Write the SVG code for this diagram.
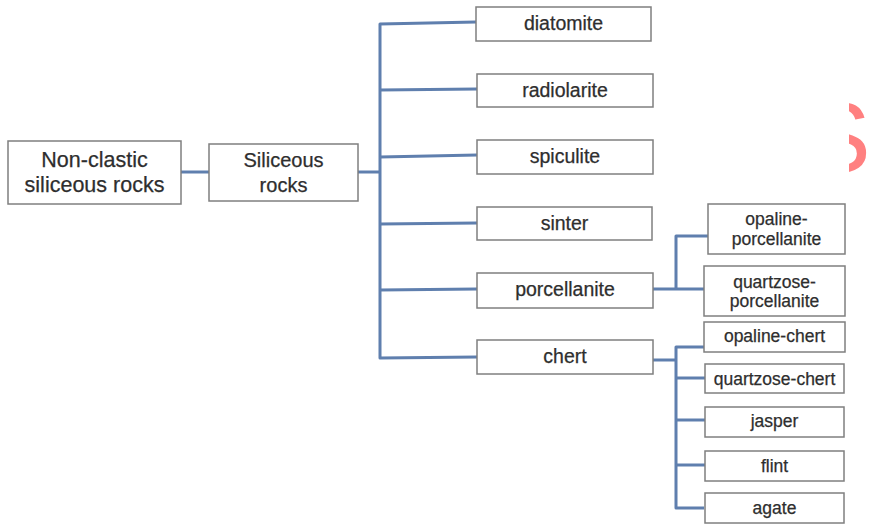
<svg xmlns="http://www.w3.org/2000/svg" width="877" height="525" viewBox="0 0 877 525">
  <style>
    .box { fill: #ffffff; stroke: #7f7f7f; stroke-width: 1.5; }
    .lbl { font-family: "Liberation Sans", Arial, sans-serif; fill: #2e2e2e; stroke: #2e2e2e; stroke-width: 0.25; text-anchor: middle; }
    .l0 { font-size: 21.5px; }
    .l1 { font-size: 20px; }
    .l2 { font-size: 19.5px; }
    .l3 { font-size: 17.5px; }
    .wire { fill: none; stroke: #5f7fae; stroke-width: 3; stroke-linejoin: round; }
  </style>
  <defs>
    <clipPath id="edgeClip"><rect x="849" y="90" width="28" height="90"/></clipPath>
  </defs>
  <rect width="877" height="525" fill="#ffffff"/>

  <!-- connectors -->
  <g id="connectors">
    <path class="wire" d="M181 172 H209"/>
    <path class="wire" d="M358 172 H380"/>
    <path class="wire" d="M476 22 L380 24 V358 L477 357"/>
    <path class="wire" d="M380 90 L477 89"/>
    <path class="wire" d="M380 157 L477 155"/>
    <path class="wire" d="M380 224 L477 223"/>
    <path class="wire" d="M380 290 L477 289"/>
    <path class="wire" d="M653 289 H704"/>
    <path class="wire" d="M708 236 H676 V289"/>
    <path class="wire" d="M653 360 H676"/>
    <path class="wire" d="M704 347 H676 V508 H704"/>
    <path class="wire" d="M676 378 H705"/>
    <path class="wire" d="M676 420 H705"/>
    <path class="wire" d="M676 465 H705"/>
  </g>

  <g id="non-clastic">
    <rect class="box" x="8" y="141" width="173" height="63"/>
    <text class="lbl l0" x="94.5" y="167">Non-clastic</text>
    <text class="lbl l0" x="94.5" y="192">siliceous rocks</text>
  </g>
  <g id="siliceous">
    <rect class="box" x="209" y="144" width="149" height="57"/>
    <text class="lbl l1" x="283.5" y="167">Siliceous</text>
    <text class="lbl l1" x="283.5" y="192">rocks</text>
  </g>

  <g id="diatomite">
    <rect class="box" x="476" y="7" width="175" height="34"/>
    <text class="lbl l2" x="563.5" y="30">diatomite</text>
  </g>
  <g id="radiolarite">
    <rect class="box" x="477" y="74" width="176" height="33"/>
    <text class="lbl l2" x="565" y="97">radiolarite</text>
  </g>
  <g id="spiculite">
    <rect class="box" x="477" y="140" width="176" height="34"/>
    <text class="lbl l2" x="565" y="163">spiculite</text>
  </g>
  <g id="sinter">
    <rect class="box" x="477" y="207" width="175" height="33"/>
    <text class="lbl l2" x="564.5" y="230">sinter</text>
  </g>
  <g id="porcellanite">
    <rect class="box" x="477" y="273" width="176" height="35"/>
    <text class="lbl l2" x="565" y="296">porcellanite</text>
  </g>
  <g id="chert">
    <rect class="box" x="477" y="340" width="176" height="34"/>
    <text class="lbl l2" x="565" y="363">chert</text>
  </g>

  <g id="opaline-porcellanite">
    <rect class="box" x="708" y="204" width="137" height="50"/>
    <text class="lbl l3" x="776.5" y="225">opaline-</text>
    <text class="lbl l3" x="776.5" y="245">porcellanite</text>
  </g>
  <g id="quartzose-porcellanite">
    <rect class="box" x="704" y="266" width="141" height="50"/>
    <text class="lbl l3" x="774.5" y="288">quartzose-</text>
    <text class="lbl l3" x="774.5" y="307">porcellanite</text>
  </g>
  <g id="opaline-chert">
    <rect class="box" x="704" y="322" width="141" height="30"/>
    <text class="lbl l3" x="774.5" y="342">opaline-chert</text>
  </g>
  <g id="quartzose-chert">
    <rect class="box" x="705" y="364" width="139" height="29"/>
    <text class="lbl l3" x="774.5" y="385">quartzose-chert</text>
  </g>
  <g id="jasper">
    <rect class="box" x="705" y="407" width="139" height="30"/>
    <text class="lbl l3" x="774.5" y="427">jasper</text>
  </g>
  <g id="flint">
    <rect class="box" x="705" y="451" width="139" height="30"/>
    <text class="lbl l3" x="774.5" y="472">flint</text>
  </g>
  <g id="agate">
    <rect class="box" x="705" y="493" width="139" height="30"/>
    <text class="lbl l3" x="774.5" y="514">agate</text>
  </g>

  <!-- partial red letter at the right edge -->
  <text x="804" y="172" clip-path="url(#edgeClip)" font-family="Liberation Sans, Arial, sans-serif" font-size="100" fill="#ff8080">S</text>
</svg>
